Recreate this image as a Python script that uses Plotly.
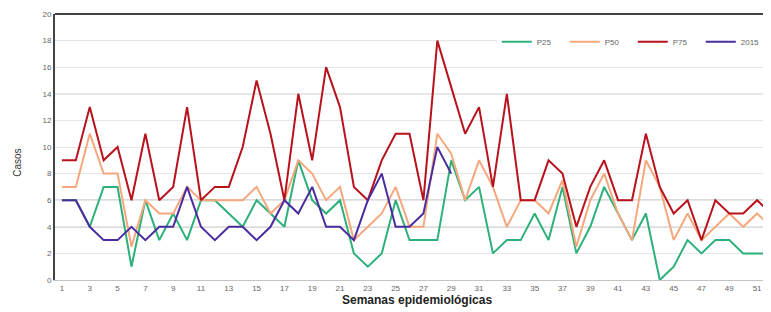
import plotly.graph_objects as go

weeks = list(range(1, 53))

p25 = [6, 6, 4, 7, 7, 1, 6, 3, 5, 3,
       6, 6, 5, 4, 6, 5, 4, 9, 6, 5,
       6, 2, 1, 2, 6, 3, 3, 3, 9, 6,
       7, 2, 3, 3, 5, 3, 7, 2, 4, 7,
       5, 3, 5, 0, 1, 3, 2, 3, 3, 2,
       2, 2]

p50 = [7, 7, 11, 8, 8, 2.5, 6, 5, 5, 7,
       6, 6, 6, 6, 7, 5, 6, 9, 8, 6,
       7, 3, 4, 5, 7, 4, 4, 11, 9.5, 6,
       9, 7, 4, 6, 6, 5, 7.5, 2.5, 6, 8,
       5, 3, 9, 7, 3, 5, 3, 4, 5, 4,
       5, 4]

p75 = [9, 9, 13, 9, 10, 6, 11, 6, 7, 13,
       6, 7, 7, 10, 15, 11, 6, 14, 9, 16,
       13, 7, 6, 9, 11, 11, 6, 18, 14.5, 11,
       13, 7, 14, 6, 6, 9, 8, 4, 7, 9,
       6, 6, 11, 7, 5, 6, 3, 6, 5, 5,
       6, 5]

y2015 = [6, 6, 4, 3, 3, 4, 3, 4, 4, 7,
         4, 3, 4, 4, 3, 4, 6, 5, 7, 4,
         4, 3, 6, 8, 4, 4, 5, 10, 8] + [None] * 23

tick_weeks = list(range(1, 52, 2))
y_ticks = list(range(0, 21, 2))
mid_levels = [18, 14]
dark_levels = [6, 4]

series = [
    ("P25", p25, "#2eb07a"),
    ("P50", p50, "#f5a87e"),
    ("P75", p75, "#b8121c"),
    ("2015", y2015, "#4b2c9e"),
]

fig = go.Figure()
for name, vals, color in series:
    fig.add_trace(go.Scatter(
        x=weeks, y=vals, name=name, mode="lines",
        line=dict(color=color, width=2), connectgaps=False,
    ))

shapes = []
for lv in mid_levels:
    shapes.append(dict(type="line", xref="paper", yref="y", x0=0, x1=1, y0=lv, y1=lv,
                       line=dict(color="#b4b4b4", width=1), layer="between"))
for lv in dark_levels:
    shapes.append(dict(type="line", xref="paper", yref="y", x0=0, x1=1, y0=lv, y1=lv,
                       line=dict(color="#888888", width=1), layer="between"))
shapes.append(dict(type="line", xref="paper", yref="paper", x0=0, x1=1, y0=1, y1=1,
                   line=dict(color="#444444", width=2)))

font_family = "Arial, Liberation Sans, sans-serif"

# page body has an 8px default margin; size the figure to fill the rest
fig.update_layout(
    width=763, height=304,
    margin=dict(l=47, r=0, t=6, b=32),
    paper_bgcolor="white", plot_bgcolor="white",
    font=dict(family=font_family, size=8, color="#555555"),
    showlegend=True,
    legend=dict(
        orientation="h", x=0.617, y=0.95, xanchor="left", yanchor="top",
        bgcolor="white", font=dict(size=8, color="#666666"),
        entrywidth=23, entrywidthmode="pixels", tracegroupgap=0,
    ),
    xaxis=dict(
        range=[0.5, 52.0], tickmode="array", tickvals=tick_weeks,
        ticktext=[str(w) for w in tick_weeks], automargin=False,
        showgrid=False, zeroline=False, showline=True, linecolor="#c4c4c4",
        linewidth=1, ticks="", tickfont=dict(size=8, color="#666666"),
    ),
    yaxis=dict(
        range=[0, 20], tickmode="array", tickvals=y_ticks, automargin=False,
        showgrid=True, gridcolor="#e6e6e6", zeroline=False,
        showline=True, linecolor="#444444", linewidth=2, ticks="",
        tickfont=dict(size=8, color="#666666"),
    ),
    shapes=shapes,
    annotations=[
        dict(text="Casos", textangle=-90, xref="paper", yref="paper",
             x=-0.052, y=0.44, xanchor="center", yanchor="middle", showarrow=False,
             font=dict(size=10, color="#333333", family=font_family)),
        dict(text="<b>Semanas epidemiológicas</b>", xref="paper", yref="paper",
             x=0.506, y=-0.075, xanchor="center", yanchor="middle", showarrow=False,
             font=dict(size=12, color="#222222", family=font_family)),
    ],
)

fig.write_html("out.html")
